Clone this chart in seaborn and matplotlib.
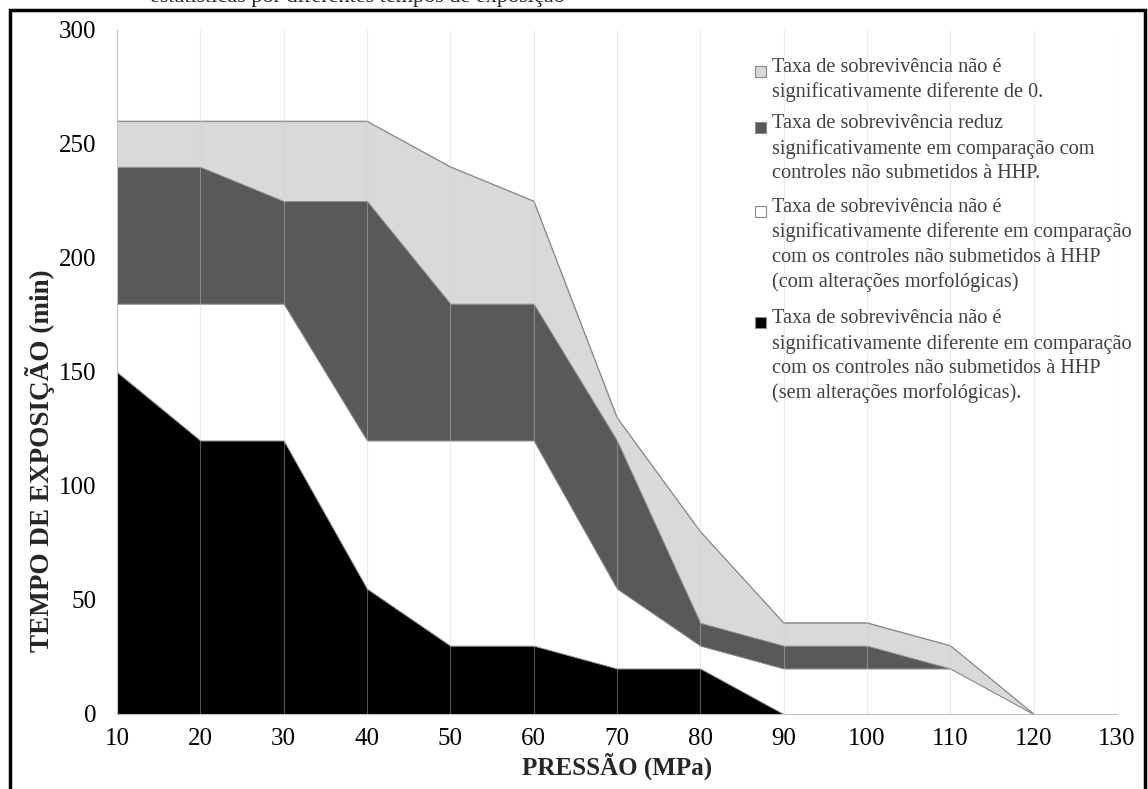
import numpy as np
import pandas as pd
import matplotlib
matplotlib.use("Agg")
import matplotlib.pyplot as plt
from matplotlib.patches import Rectangle
import seaborn as sns

# data: cumulative upper boundary of each band
pressao = [10, 20, 30, 40, 50, 60, 70, 80, 90, 100, 110, 120]
topo_preto = [150, 120, 120, 55, 30, 30, 20, 20, 0, 0, 0, 0]
topo_branco = [180, 180, 180, 120, 120, 120, 55, 30, 20, 20, 20, 0]
topo_escuro = [240, 240, 225, 225, 180, 180, 120, 40, 30, 30, 20, 0]
topo_claro = [260, 260, 260, 260, 240, 225, 130, 80, 40, 40, 30, 0]

x_ticks = [10, 20, 30, 40, 50, 60, 70, 80, 90, 100, 110, 120, 130]
y_ticks = [0, 50, 100, 150, 200, 250, 300]

legenda = [
    ("Taxa de sobrevivência não é\nsignificativamente diferente de 0.", "#d9d9d9"),
    ("Taxa de sobrevivência reduz\nsignificativamente em comparação com\ncontroles não submetidos à HHP.", "#595959"),
    ("Taxa de sobrevivência não é\nsignificativamente diferente em comparação\ncom os controles não submetidos à HHP\n(com alterações morfológicas)", "#ffffff"),
    ("Taxa de sobrevivência não é\nsignificativamente diferente em comparação\ncom os controles não submetidos à HHP\n(sem alterações morfológicas).", "#000000"),
]

df = pd.DataFrame({"pressao": pressao, "preto": topo_preto, "branco": topo_branco,
                   "escuro": topo_escuro, "claro": topo_claro})

sns.set_style("white")
plt.rcParams["font.family"] = ["Liberation Serif", "DejaVu Serif"]

W, H = 1148, 789
fig = plt.figure(figsize=(W / 100, H / 100), dpi=100)
ax = fig.add_axes([117 / W, 1 - 714 / H, 1000 / W, 684 / H])

# stacked bands (increments between boundaries)
bandas = [df["preto"], df["branco"] - df["preto"], df["escuro"] - df["branco"], df["claro"] - df["escuro"]]
ax.stackplot(df["pressao"], *bandas, colors=["#000000", "#ffffff", "#595959", "#d9d9d9"],
             edgecolor="#8c8c8c", linewidth=0.6, zorder=1)
sns.lineplot(data=df, x="pressao", y="claro", color="#8c8c8c", linewidth=0.8, ax=ax, zorder=2)

ax.set_xlim(10, 130)
ax.set_ylim(0, 300)
ax.set_xticks(x_ticks)
ax.set_yticks(y_ticks)
ax.xaxis.grid(True, color="#d0d0d0", linewidth=0.8, alpha=0.4, zorder=3)
ax.set_axisbelow(False)
ax.tick_params(axis="both", labelsize=18, colors="#bfbfbf", labelcolor="black",
               length=5, width=0.8, direction="out")
ax.tick_params(axis="x", pad=5)
ax.tick_params(axis="y", pad=10)
for s in ["top", "right"]:
    ax.spines[s].set_visible(False)
for s in ["left", "bottom"]:
    ax.spines[s].set_color("#bfbfbf")
    ax.spines[s].set_linewidth(0.8)

ax.set_xlabel("PRESSÃO (MPa)", fontsize=18, fontweight="bold", labelpad=2)
ax.set_ylabel("TEMPO DE EXPOSIÇÃO (min)", fontsize=19.5, fontweight="bold")
ax.yaxis.set_label_coords(-0.062, 0.37)

# legend drawn as text blocks with square markers
linha = 27.6
y = 71
for texto, cor in legenda:
    fig.add_artist(Rectangle((755 / W, 1 - (y + 6) / H), 11 / W, 11 / H, transform=fig.transFigure,
                             facecolor=cor, edgecolor="#8c8c8c", linewidth=0.8))
    fig.text(772 / W, 1 - (y - 13) / H, texto, fontsize=14.6, color="#404040", va="top",
             ha="left", linespacing=1.37)
    y += linha * (texto.count("\n") + 1) + 1

# outer frame and clipped caption of the source page
fig.add_artist(Rectangle((10 / W, -0.1), 1135 / W, 1 - 10 / H + 0.1, transform=fig.transFigure,
                         fill=False, edgecolor="black", linewidth=2.5))
fig.text(150 / W, 1 - 2 / H, "estatísticas por diferentes tempos de exposição", fontsize=16,
         va="baseline", ha="left")

fig.savefig("out.png", dpi=100)
